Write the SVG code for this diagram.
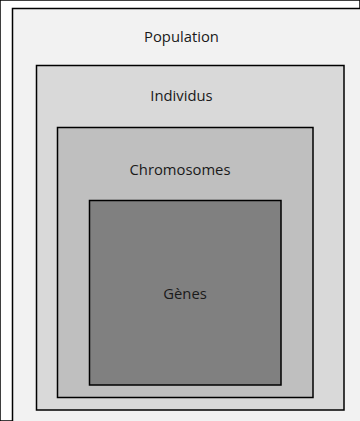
<svg xmlns="http://www.w3.org/2000/svg" width="360" height="421" viewBox="0 0 360 421">
<style>
rect{stroke:#000;stroke-width:1.5}
text{font-family:"Open Sans","Liberation Sans",sans-serif;font-size:14.8px;fill:#1a1a1a;text-anchor:middle}
</style>
<rect x="0" y="0" width="360" height="421" fill="#fff" stroke="none"/>
<g id="population">
<rect x="12.5" y="8.5" width="360" height="430" fill="#f2f2f2"/>
<text x="181.5" y="41.5">Population</text>
</g>
<g id="individus">
<rect x="36.5" y="65.5" width="307.5" height="344.5" fill="#d9d9d9"/>
<text x="181.5" y="100.5">Individus</text>
</g>
<g id="chromosomes">
<rect x="57.5" y="127.5" width="255.5" height="270" fill="#bfbfbf"/>
<text x="180" y="174.5">Chromosomes</text>
</g>
<g id="genes">
<rect x="89.5" y="200.5" width="191.5" height="184.5" fill="#808080"/>
<text x="185" y="298.5">Gènes</text>
</g>
<g id="connectors"/>
</svg>
